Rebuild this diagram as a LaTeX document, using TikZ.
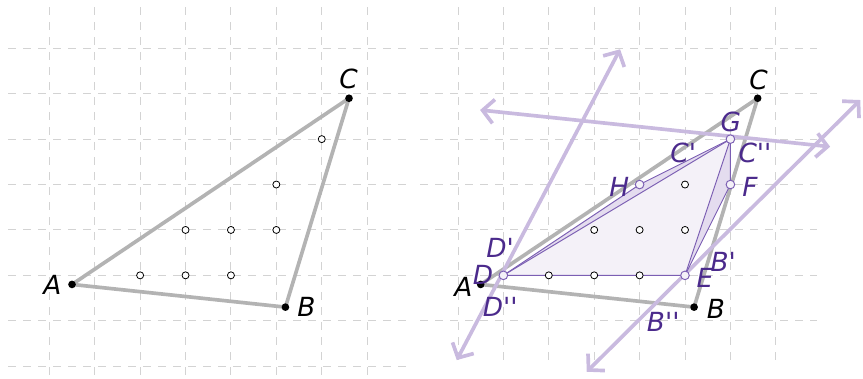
\documentclass[tikz,border=0pt]{standalone}
\usepackage{fontspec}
\setmainfont{DejaVu Sans}
\newfontfamily\lblfont{DejaVu Sans}
\usepackage{tikz}
\usetikzlibrary{arrows.meta}
\definecolor{gridgray}{HTML}{D3D3D3}
\definecolor{sidegray}{HTML}{B3B3B3}
\definecolor{linepurple}{HTML}{C9BADF}
\definecolor{edgepurple}{HTML}{7B5EB3}
\definecolor{textpurple}{HTML}{4B2A8C}
\definecolor{fillpurple}{HTML}{F4F1F8}
\definecolor{slivpurple}{HTML}{E4DCEF}

\begin{document}
\begin{tikzpicture}[
    gridline/.style={gridgray,line width=0.6pt,dash pattern=on 4.7pt off 4.7pt},
    side/.style={sidegray,line width=2.3pt,line join=round},
    longline/.style={linepurple,line width=2.3pt,line cap=round,
      {Straight Barb[length=7pt,width=15pt]}-{Straight Barb[length=7pt,width=15pt]}},
    hulledge/.style={edgepurple,line width=0.6pt},
    vertex/.style={circle,fill=black,minimum size=4.8pt,inner sep=0pt},
    lattice/.style={circle,draw=black,fill=white,minimum size=4.4pt,inner sep=0pt,line width=0.5pt},
    hullpt/.style={circle,draw=edgepurple,fill=fillpurple,minimum size=5.4pt,inner sep=0pt,line width=0.6pt},
    lbl/.style={font=\lblfont\fontsize{16.5}{16.5}\selectfont\itshape,inner sep=0pt},
    plbl/.style={lbl,text=textpurple}]
\useasboundingbox (-1.086,-7.262) rectangle (17.92,1.064);

% grids
\foreach \x in {0,...,7} \draw[gridline] (\x,0.9) -- (\x,-7.3);
\foreach \y in {0,...,-7} \draw[gridline] (-0.9,\y) -- (7.95,\y);
\foreach \x in {9,...,16} \draw[gridline] (\x,0.9) -- (\x,-7);
\foreach \y in {0,...,-6} \draw[gridline] (8.17,\y) -- (16.91,\y);

% left triangle
\coordinate (A1) at (0.5,-5.2);
\coordinate (B1) at (5.2,-5.7);
\coordinate (C1) at (6.6,-1.1);
\draw[side] (A1) -- (B1) -- (C1) -- cycle;
\foreach \p in {(2,-5),(3,-5),(4,-5),(3,-4),(4,-4),(5,-4),(5,-3),(6,-2)}
  \node[lattice] at \p {};
\node[vertex] (a1) at (A1) {};
\node[vertex] (b1) at (B1) {};
\node[vertex] (c1) at (C1) {};
\node[lbl] (la1) at (0.07,-5.21) {A};
\node[lbl] (lb1) at (5.66,-5.70) {B};
\node[lbl] (lc1) at (6.59,-0.68) {C};

% right triangle
\coordinate (A2) at (9.5,-5.2);
\coordinate (B2) at (14.2,-5.7);
\coordinate (C2) at (15.6,-1.1);
\coordinate (D) at (10,-5);
\coordinate (E) at (14,-5);
\coordinate (F) at (15,-3);
\coordinate (G) at (15,-2);
\coordinate (H) at (13,-3);
\fill[fillpurple] (D) -- (E) -- (F) -- (G) -- (H) -- cycle;
\fill[slivpurple] (D) -- (H) -- (G) -- cycle;
\fill[slivpurple] (E) -- (F) -- (G) -- cycle;
\draw[side] (A2) -- (B2) -- (C2) -- cycle;

% the three lines
\coordinate (l1a) at (8.973,-6.866);
\coordinate (l1b) at (12.57,-0.022);
\coordinate (l2a) at (9.487,-1.359);
\coordinate (l2b) at (17.196,-2.167);
\coordinate (l3a) at (11.836,-7.123);
\coordinate (l3b) at (17.86,-1.139);
\draw[longline] (l1a) -- (l1b);
\draw[longline] (l2a) -- (l2b);
\draw[longline] (l3a) -- (l3b);

% hull
\draw[hulledge] (D) -- (E) -- (F) -- (G) -- (H) -- cycle;
\draw[hulledge] (D) -- (G) -- (E);
\foreach \p in {(11,-5),(12,-5),(13,-5),(12,-4),(13,-4),(14,-4),(14,-3)}
  \node[lattice] at \p {};
\node[hullpt] (d) at (D) {};
\node[hullpt] (e) at (E) {};
\node[hullpt] (f) at (F) {};
\node[hullpt] (g) at (G) {};
\node[hullpt] (h) at (H) {};
\node[vertex] (a2) at (A2) {};
\node[vertex] (b2) at (B2) {};
\node[vertex] (c2) at (C2) {};

% labels
\node[lbl] (la2) at (9.12,-5.26) {A};
\node[lbl] (lb2) at (14.68,-5.73) {B};
\node[lbl] (lc2) at (15.62,-0.70) {C};
\node[plbl] (ld) at (9.55,-4.99) {D};
\node[plbl] (ld1) at (9.93,-4.40) {D'};
\node[plbl] (ld2) at (9.93,-5.69) {D''};
\node[plbl] (le) at (14.44,-5.06) {E};
\node[plbl] (lb3) at (14.84,-4.70) {B'};
\node[plbl] (lb4) at (13.52,-6.02) {B''};
\node[plbl] (lf) at (15.43,-3.05) {F};
\node[plbl] (lg) at (15.01,-1.62) {G};
\node[plbl] (lh) at (12.55,-3.05) {H};
\node[plbl] (lc3) at (13.96,-2.31) {C'};
\node[plbl] (lc4) at (15.54,-2.31) {C''};
\end{tikzpicture}
\end{document}
